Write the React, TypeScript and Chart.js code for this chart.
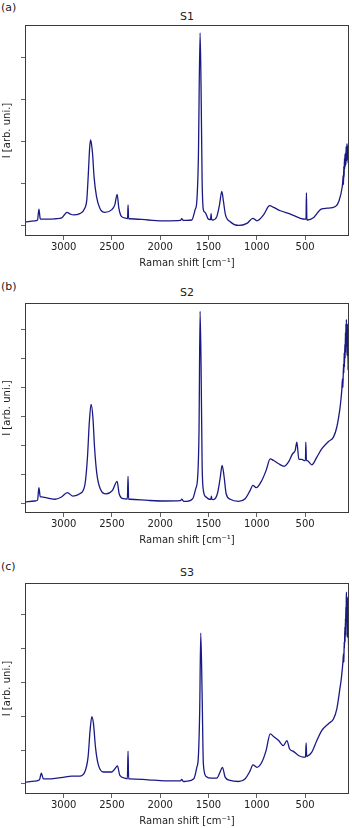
import React, { useEffect, useRef } from "react";
import { Chart, registerables } from "chart.js";

Chart.register(...registerables);

// ---------- data ----------
const X_TICKS = [3000, 2500, 2000, 1500, 1000, 500];

const S1_SHIFT = [3400, 3300, 3270, 3256, 3242, 3230, 3160, 3080, 3020, 2965, 2930, 2900, 2833, 2781, 2760, 2745, 2732, 2722, 2712, 2700, 2685, 2660, 2625, 2573, 2504, 2470, 2446, 2428, 2400, 2348, 2338, 2333, 2327, 2314, 2124, 1950, 1790, 1777, 1760, 1725, 1673, 1639, 1621, 1605, 1587, 1577, 1566, 1553, 1535, 1501, 1478, 1473, 1468, 1455, 1414, 1386, 1362, 1345, 1324, 1275, 1189, 1102, 1040, 998, 930, 867, 826, 756, 652, 548, 500, 490, 486, 481, 476, 410, 333, 271, 185, 151, 115, 110, 105, 102, 99, 97, 95, 92, 90, 87, 85, 82, 80, 77, 75, 72, 70, 68, 66, 64, 62, 60, 57, 54, 52, 50, 47, 45];
const S1_INT = [0.09, 0.12, 0.14, 0.40, 0.17, 0.16, 0.16, 0.17, 0.19, 0.32, 0.28, 0.26, 0.29, 0.42, 0.62, 1.20, 1.80, 2.04, 1.95, 1.70, 1.17, 0.70, 0.42, 0.32, 0.38, 0.50, 0.75, 0.42, 0.22, 0.18, 0.17, 0.50, 0.17, 0.17, 0.14, 0.12, 0.13, 0.17, 0.13, 0.13, 0.14, 0.38, 0.58, 1.57, 4.58, 3.31, 1.09, 0.38, 0.32, 0.16, 0.15, 0.29, 0.15, 0.14, 0.22, 0.50, 0.82, 0.58, 0.26, 0.10, 0.01, 0.06, 0.18, 0.12, 0.26, 0.48, 0.44, 0.36, 0.28, 0.18, 0.16, 0.16, 0.79, 0.15, 0.14, 0.20, 0.40, 0.42, 0.46, 0.58, 0.93, 1.05, 1.20, 0.98, 1.41, 1.15, 1.25, 1.60, 1.35, 1.70, 1.40, 1.73, 1.45, 1.50, 1.88, 1.60, 1.85, 1.55, 1.95, 1.70, 1.92, 1.65, 1.85, 1.49, 1.80, 1.55, 1.88, 1.60];

const S2_SHIFT = [3400, 3300, 3270, 3256, 3242, 3231, 3162, 3090, 3023, 2962, 2903, 2833, 2781, 2753, 2735, 2716, 2697, 2680, 2656, 2622, 2560, 2494, 2446, 2425, 2383, 2340, 2333, 2327, 2314, 2124, 1950, 1790, 1777, 1755, 1725, 1663, 1632, 1612, 1598, 1587, 1577, 1566, 1553, 1525, 1490, 1475, 1470, 1465, 1449, 1408, 1380, 1359, 1338, 1317, 1275, 1189, 1120, 1068, 1040, 1006, 948, 903, 861, 826, 774, 716, 671, 630, 602, 585, 564, 533, 509, 496, 492, 486, 478, 430, 378, 326, 257, 206, 171, 137, 128, 120, 112, 108, 102, 98, 95, 92, 88, 85, 82, 80, 77, 75, 72, 70, 68, 65, 62, 60, 57, 55, 52, 50, 47];
const S2_INT = [0.03, 0.07, 0.10, 0.53, 0.22, 0.21, 0.17, 0.13, 0.21, 0.36, 0.24, 0.32, 0.61, 1.59, 2.74, 3.41, 2.97, 1.93, 1.01, 0.50, 0.32, 0.44, 0.75, 0.32, 0.15, 0.14, 0.92, 0.13, 0.13, 0.09, 0.07, 0.08, 0.13, 0.06, 0.06, 0.15, 0.50, 0.90, 2.51, 6.63, 4.81, 1.36, 0.44, 0.21, 0.13, 0.13, 0.24, 0.13, 0.12, 0.32, 0.84, 1.30, 0.90, 0.32, 0.13, 0.06, 0.15, 0.44, 0.61, 0.53, 0.78, 1.13, 1.53, 1.47, 1.36, 1.27, 1.42, 1.70, 1.82, 2.11, 1.51, 1.51, 1.47, 1.47, 2.11, 1.47, 1.47, 1.32, 1.59, 1.88, 2.13, 2.28, 2.63, 3.32, 3.60, 3.89, 4.30, 4.00, 4.81, 4.50, 5.20, 4.70, 5.50, 5.00, 5.90, 5.20, 6.20, 5.60, 6.35, 5.40, 6.00, 5.10, 6.20, 5.30, 5.90, 4.60, 5.50, 4.90, 5.60];

const S3_SHIFT = [3400, 3300, 3250, 3231, 3210, 3130, 2989, 2919, 2833, 2781, 2747, 2726, 2708, 2691, 2670, 2643, 2591, 2504, 2470, 2443, 2418, 2366, 2340, 2333, 2327, 2314, 2124, 1950, 1790, 1777, 1760, 1725, 1652, 1621, 1605, 1591, 1580, 1566, 1553, 1525, 1466, 1414, 1380, 1355, 1328, 1275, 1189, 1120, 1068, 1040, 998, 948, 903, 861, 826, 774, 723, 688, 661, 620, 568, 516, 495, 489, 483, 475, 430, 378, 326, 257, 206, 171, 137, 125, 116, 108, 102, 98, 95, 92, 88, 85, 82, 80, 78, 75, 73, 71, 68, 66, 64, 61, 59, 57, 54, 52, 50, 47];
const S3_INT = [0.05, 0.08, 0.12, 0.32, 0.15, 0.15, 0.20, 0.23, 0.23, 0.35, 0.79, 1.58, 1.99, 1.78, 1.08, 0.59, 0.35, 0.35, 0.44, 0.53, 0.25, 0.17, 0.15, 0.97, 0.15, 0.15, 0.12, 0.09, 0.09, 0.13, 0.07, 0.08, 0.15, 0.49, 0.79, 2.17, 4.46, 2.66, 0.59, 0.22, 0.17, 0.17, 0.35, 0.49, 0.20, 0.10, 0.07, 0.15, 0.39, 0.56, 0.49, 0.64, 0.99, 1.48, 1.40, 1.28, 1.13, 1.28, 1.04, 0.96, 0.84, 0.79, 0.80, 1.21, 0.81, 0.82, 0.94, 1.28, 1.58, 1.78, 1.92, 2.22, 2.86, 3.10, 3.35, 3.60, 3.85, 3.60, 4.20, 4.00, 4.64, 4.20, 4.90, 4.40, 5.23, 4.80, 5.50, 5.67, 4.90, 5.30, 4.34, 5.20, 4.60, 5.52, 4.30, 4.80, 3.94, 4.83];

const Y1_TICKS = [0, 1, 2, 3, 4];
const Y2_TICKS = [0, 1, 2, 3, 4, 5, 6];
const Y3_TICKS = [0, 1, 2, 3, 4, 5];

// ---------- layout / style ----------
const FONT = "DejaVu Sans";
const LINE_COLOR = "#1a1a86";
const AXIS_COLOR = "#3a3a3a";
const TEXT_COLOR = "#222";

const PANELS = [
  { letter: "(a)", title: "S1", shift: S1_SHIFT, inten: S1_INT, yTicks: Y1_TICKS, yMin: -0.24, yMax: 4.77, top: 15, plotH: 211, letterY: 1, titleY: 10 },
  { letter: "(b)", title: "S2", shift: S2_SHIFT, inten: S2_INT, yTicks: Y2_TICKS, yMin: -0.345, yMax: 6.92, top: 293, plotH: 210, letterY: 280, titleY: 286 },
  { letter: "(c)", title: "S3", shift: S3_SHIFT, inten: S3_INT, yTicks: Y3_TICKS, yMin: -0.30, yMax: 5.94, top: 573, plotH: 211, letterY: 560, titleY: 566 },
];

const PAD_TOP = 10;
const X_AXIS_H = 34;
const Y_AXIS_W = 25;
const PAD_RIGHT = 3;

const framePlugin = {
  id: "frame",
  afterDraw(chart: any) {
    const { ctx, chartArea } = chart;
    const l = Math.round(chartArea.left) + 0.5;
    const t = Math.round(chartArea.top) + 0.5;
    const r = Math.round(chartArea.right) - 0.5;
    const b = Math.round(chartArea.bottom) - 0.5;
    ctx.save();
    ctx.strokeStyle = AXIS_COLOR;
    ctx.lineWidth = 1;
    ctx.strokeRect(l, t, r - l, b - t);
    ctx.restore();
  },
};

function Panel(props: any) {
  const { p } = props;
  const ref = useRef<HTMLCanvasElement | null>(null);
  useEffect(() => {
    if (!ref.current) return;
    const data = p.shift.map((s: number, i: number) => ({ x: s, y: p.inten[i] }));
    const chart = new Chart(ref.current, {
      type: "line",
      data: {
        datasets: [
          {
            data,
            borderColor: LINE_COLOR,
            borderWidth: 1.3,
            pointRadius: 0,
            cubicInterpolationMode: "monotone",
            fill: false,
          },
        ],
      },
      options: {
        animation: false,
        responsive: false,
        maintainAspectRatio: false,
        events: [],
        layout: { padding: { top: PAD_TOP, right: PAD_RIGHT, bottom: 0, left: 0 } },
        plugins: { legend: { display: false }, tooltip: { enabled: false }, title: { display: false } },
        scales: {
          x: {
            type: "linear",
            reverse: true,
            min: 45,
            max: 3400,
            afterBuildTicks: (s: any) => {
              s.ticks = X_TICKS.map((v) => ({ value: v }));
            },
            afterFit: (s: any) => {
              s.height = X_AXIS_H;
            },
            border: { display: false },
            grid: { drawOnChartArea: false, drawTicks: true, tickLength: 4, color: AXIS_COLOR, lineWidth: 0.8 },
            ticks: {
              font: { family: FONT, size: 10 },
              color: TEXT_COLOR,
              padding: 1,
              maxRotation: 0,
              autoSkip: false,
              callback: (v: any) => String(v),
            },
            title: {
              display: true,
              text: "Raman shift [cm\u207B\u00B9]",
              font: { family: FONT, size: 10 },
              color: TEXT_COLOR,
              padding: { top: 0, bottom: 1 },
            },
          },
          y: {
            type: "linear",
            min: p.yMin,
            max: p.yMax,
            afterBuildTicks: (s: any) => {
              s.ticks = p.yTicks.map((v: number) => ({ value: v }));
            },
            afterFit: (s: any) => {
              s.width = Y_AXIS_W;
            },
            border: { display: false },
            grid: { drawOnChartArea: false, drawTicks: true, tickLength: 4, color: AXIS_COLOR, lineWidth: 0.8 },
            ticks: { display: false },
            title: {
              display: true,
              text: "I [arb. uni.]",
              font: { family: FONT, size: 10 },
              color: TEXT_COLOR,
              padding: { top: 1, bottom: 0 },
            },
          },
        },
      },
      plugins: [framePlugin],
    } as any);
    return () => chart.destroy();
  }, [p]);

  const h = PAD_TOP + p.plotH + X_AXIS_H;
  return (
    <>
      <div
        style={{
          position: "absolute",
          left: 1,
          top: p.letterY,
          fontFamily: FONT,
          fontSize: 11,
          color: TEXT_COLOR,
          lineHeight: "13px",
        }}
      >
        {p.letter}
      </div>
      <div
        style={{
          position: "absolute",
          left: Y_AXIS_W,
          width: 352 - Y_AXIS_W - PAD_RIGHT,
          top: p.titleY,
          textAlign: "center",
          fontFamily: FONT,
          fontSize: 11,
          color: TEXT_COLOR,
          lineHeight: "13px",
        }}
      >
        {p.title}
      </div>
      <canvas
        ref={ref}
        width={352}
        height={h}
        style={{ position: "absolute", left: 0, top: p.top, width: 352, height: h }}
      />
    </>
  );
}

export default function App() {
  return (
    <div
      style={{
        position: "absolute",
        left: 0,
        top: 0,
        width: 352,
        height: 828,
        background: "#fff",
        overflow: "hidden",
      }}
    >
      {PANELS.map((p) => (
        <Panel key={p.title} p={p} />
      ))}
    </div>
  );
}
